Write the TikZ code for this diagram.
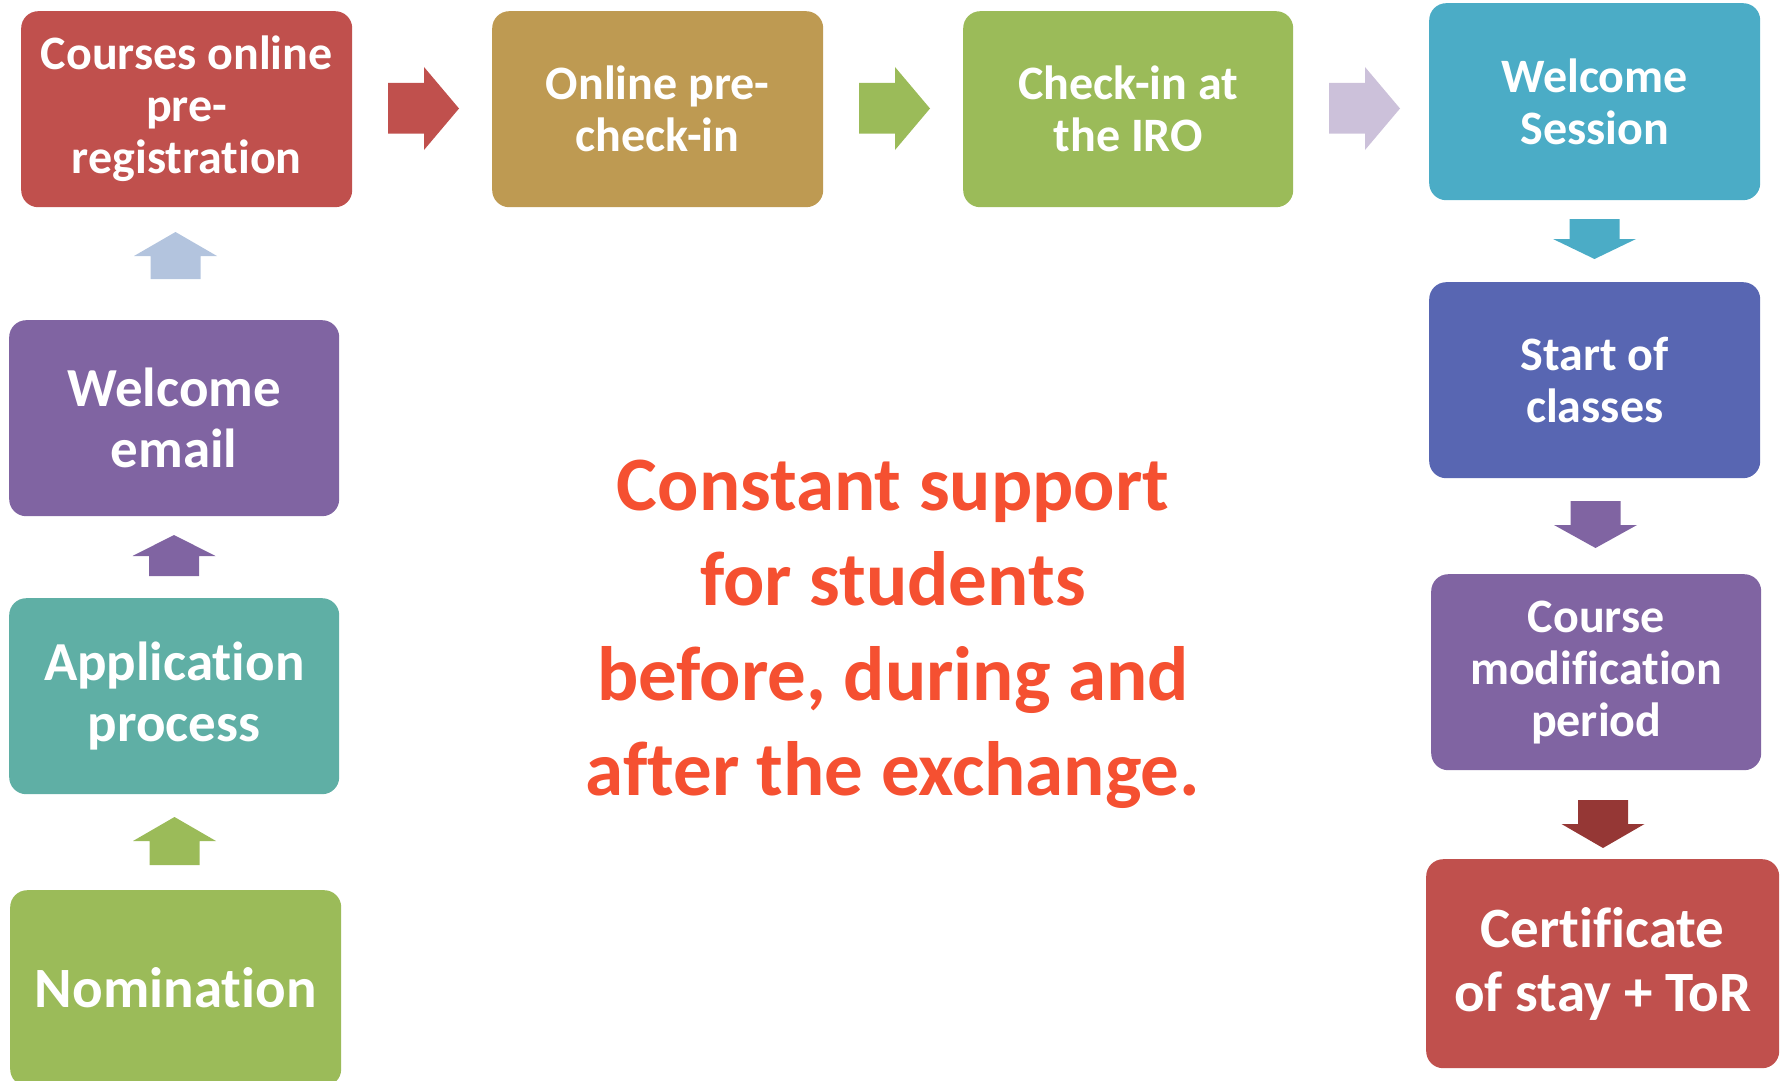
\documentclass[tikz,border=0pt]{standalone}
\usepackage{fontspec}
\setmainfont{Carlito}[Ligatures=NoCommon]
\definecolor{cRed}{HTML}{C0504D}
\definecolor{cTan}{HTML}{BE9A52}
\definecolor{cGreen}{HTML}{9BBB59}
\definecolor{cTeal}{HTML}{4BACC6}
\definecolor{cBlue}{HTML}{5866B2}
\definecolor{cPurple}{HTML}{8064A2}
\definecolor{cAqua}{HTML}{5FAFA5}
\definecolor{cDarkRed}{HTML}{953735}
\definecolor{cLightBlue}{HTML}{B3C4DE}
\definecolor{cLavender}{HTML}{CCC1DA}
\definecolor{cMsg}{HTML}{F55031}
\newcommand\blkH[2]{\fill[#2] (#1,83) -- ++(36,0) -- ++(0,-16) -- ++(35,41.5) -- ++(-35,41.5) -- ++(0,-16.5) -- ++(-36,0) -- cycle;}
\newcommand\blkV[5]{\fill[#5] ({#1},{#2}) -- ({#1+41.5},{#3}) -- ({#1+25},{#3}) -- ({#1+25},{#4}) -- ({#1-25},{#4}) -- ({#1-25},{#3}) -- ({#1-41.5},{#3}) -- cycle;}
\begin{document}
\begin{tikzpicture}[x=1pt,y=-1pt,
  box/.style={rounded corners=17pt, inner sep=0pt, anchor=north west, text=white, align=center,
    minimum width=331pt, minimum height=196pt},
  fa/.style={font=\bfseries\fontsize{48}{52}\selectfont},
  fb/.style={font=\bfseries\fontsize{55}{61}\selectfont},
  fc/.style={font=\bfseries\fontsize{57}{64}\selectfont}]
\useasboundingbox (0,0) rectangle (1781,1081);
\clip (0,0) rectangle (1781,1081);
% top row
\node[box, fa, fill=cRed] (cor) at (21,11) {Courses online\\pre-\\registration};
\node[box, fa, fill=cTan] (opc) at (492,11) {Online pre-\\check-in};
\node[box, fa, fill=cGreen, minimum width=330pt] (chk) at (963,11) {Check-in at\\the IRO};
\node[box, fa, fill=cTeal, minimum height=197pt] (wses) at (1429,3) {Welcome\\Session};
% right column
\node[box, fa, fill=cBlue] (soc) at (1429,282) {Start of\\classes};
\node[box, fa, fill=cPurple, minimum width=330pt] (cmp) at (1431,574) {Course\\modification\\period};
\node[box, fc, fill=cRed, minimum width=353pt, minimum height=209pt] (cert) at (1426,859) {Certificate\\of stay + ToR};
% left column
\node[box, fb, fill=cPurple, minimum width=330pt] (wem) at (9,320) {Welcome\\email};
\node[box, fb, fill=cAqua, minimum width=330pt] (app) at (9,598) {Application\\process};
\node[box, font=\bfseries\fontsize{57}{64}\selectfont, fill=cGreen] (nom) at (10,890) {Nomination};
% block arrows
\blkH{388}{cRed}
\blkH{859}{cGreen}
\blkH{1329}{cLavender}
\blkV{175.5}{232}{256}{279}{cLightBlue}
\blkV{174}{535}{556}{576}{cPurple}
\blkV{174.5}{817}{841}{865}{cGreen}
\blkV{1594.5}{259}{239}{219}{cTeal}
\blkV{1595.5}{548}{525}{501}{cPurple}
\blkV{1603}{848}{824}{800}{cDarkRed}
% message
\node[text=cMsg, align=center, font=\bfseries\fontsize{77}{95}\selectfont] (msg) at (893,634)
  {Constant support\\for students\\before, during and\\after the exchange.};
\end{tikzpicture}
\end{document}
